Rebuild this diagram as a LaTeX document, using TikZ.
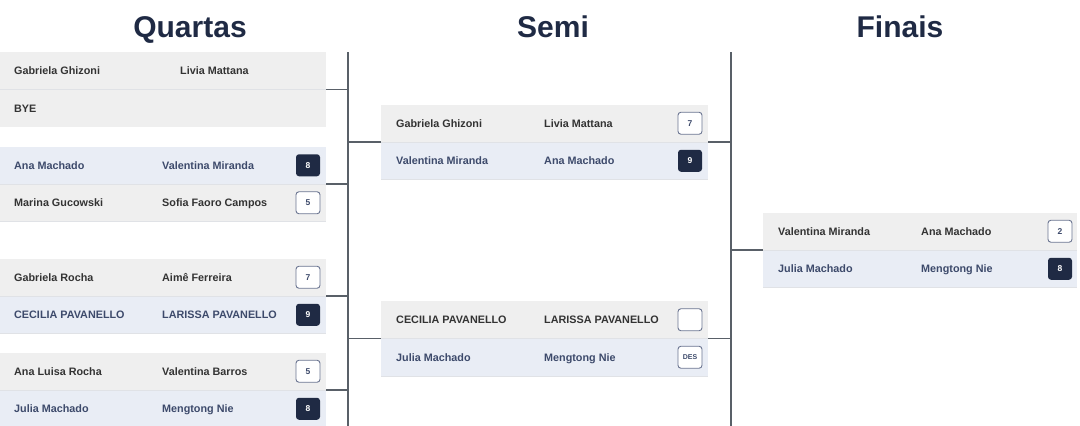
\documentclass[tikz,border=0pt]{standalone}
\usepackage{fontspec}
\setmainfont{Liberation Sans}
\usepackage{xcolor}
\usepackage{tikz}
\usetikzlibrary{positioning, calc}

\definecolor{navy}{HTML}{1F2A44}
\definecolor{rowgray}{HTML}{EFEFEF}
\definecolor{rowblue}{HTML}{E9EDF5}
\definecolor{rowline}{HTML}{E0E2E6}
\definecolor{namedark}{HTML}{333333}
\definecolor{nameblue}{HTML}{3D4A6B}
\definecolor{scoreline}{HTML}{6B7591}
\definecolor{linegray}{HTML}{596068}

\newcommand{\namefont}{\bfseries\fontsize{10.8}{12}\selectfont}
\newcommand{\scorefont}{\bfseries\fontsize{8.5}{9}\selectfont}
\newcommand{\titlefont}{\bfseries\fontsize{30}{33}\selectfont}

\begin{document}
\begin{tikzpicture}[x=1pt, y=-1pt,
    row/.style={minimum height=37.5pt, inner sep=0pt, outer sep=0pt, anchor=north west},
    grayrow/.style={row, fill=rowgray},
    bluerow/.style={row, fill=rowblue},
    player/.style={anchor=base west, inner sep=0pt, yshift=-4pt, font=\namefont, text=namedark},
    winner/.style={player, text=nameblue},
    score/.style={rounded corners=3pt, minimum width=24pt, minimum height=22pt, inner sep=0pt, font=\scorefont},
    lose/.style={score, draw=scoreline, line width=0.9pt, fill=white, text=nameblue},
    won/.style={score, fill=navy, text=white},
    title/.style={anchor=base, font=\titlefont, text=navy},
    link/.style={draw=linegray, line width=1.6pt},
    sep/.style={draw=rowline, line width=0.7pt}]
    \useasboundingbox (0,0) rectangle (1080,426);

    % Titles
    \node[title] (tq) at (190,37) {Quartas};
    \node[title] (ts) at (553,37) {Semi};
    \node[title] (tf) at (900,37) {Finais};

    % Quartas
    \node[grayrow, minimum width=326pt] (q1a) at (0,52) {};
    \node[grayrow, minimum width=326pt] (q1b) at (0,89.5) {};
    \node[bluerow, minimum width=326pt] (q2a) at (0,146.5) {};
    \node[grayrow, minimum width=326pt] (q2b) at (0,184) {};
    \node[grayrow, minimum width=326pt] (q3a) at (0,258.5) {};
    \node[bluerow, minimum width=326pt] (q3b) at (0,296) {};
    \node[grayrow, minimum width=326pt] (q4a) at (0,352.5) {};
    \node[bluerow, minimum width=326pt] (q4b) at (0,390) {};

    % Semi
    \node[grayrow, minimum width=327pt] (s1a) at (381,104.5) {};
    \node[bluerow, minimum width=327pt] (s1b) at (381,142) {};
    \node[grayrow, minimum width=327pt] (s2a) at (381,301) {};
    \node[bluerow, minimum width=327pt] (s2b) at (381,338.5) {};

    % Finais
    \node[grayrow, minimum width=314pt] (fa) at (763,212.5) {};
    \node[bluerow, minimum width=314pt] (fb) at (763,250) {};

    % faint row borders
    \foreach \r in {q1a,q2a,q2b,q3a,q3b,q4a,s1a,s1b,s2a,s2b,fa,fb}
    \draw[sep] (\r.south west) -- (\r.south east);

    % names
    \node[player] (q1a1) at ([xshift=14pt]q1a.west) {Gabriela Ghizoni};
    \node[player] (q1a2) at ([xshift=180pt]q1a.west) {Livia Mattana};
    \node[player] (q1b1) at ([xshift=14pt]q1b.west) {BYE};
    \node[winner] (q2a1) at ([xshift=14pt]q2a.west) {Ana Machado};
    \node[winner] (q2a2) at ([xshift=162pt]q2a.west) {Valentina Miranda};
    \node[player] (q2b1) at ([xshift=14pt]q2b.west) {Marina Gucowski};
    \node[player] (q2b2) at ([xshift=162pt]q2b.west) {Sofia Faoro Campos};
    \node[player] (q3a1) at ([xshift=14pt]q3a.west) {Gabriela Rocha};
    \node[player] (q3a2) at ([xshift=162pt]q3a.west) {Aimê Ferreira};
    \node[winner] (q3b1) at ([xshift=14pt]q3b.west) {CECILIA PAVANELLO};
    \node[winner] (q3b2) at ([xshift=162pt]q3b.west) {LARISSA PAVANELLO};
    \node[player] (q4a1) at ([xshift=14pt]q4a.west) {Ana Luisa Rocha};
    \node[player] (q4a2) at ([xshift=162pt]q4a.west) {Valentina Barros};
    \node[winner] (q4b1) at ([xshift=14pt]q4b.west) {Julia Machado};
    \node[winner] (q4b2) at ([xshift=162pt]q4b.west) {Mengtong Nie};

    \node[player] (s1a1) at ([xshift=15pt]s1a.west) {Gabriela Ghizoni};
    \node[player] (s1a2) at ([xshift=163pt]s1a.west) {Livia Mattana};
    \node[winner] (s1b1) at ([xshift=15pt]s1b.west) {Valentina Miranda};
    \node[winner] (s1b2) at ([xshift=163pt]s1b.west) {Ana Machado};
    \node[player] (s2a1) at ([xshift=15pt]s2a.west) {CECILIA PAVANELLO};
    \node[player] (s2a2) at ([xshift=163pt]s2a.west) {LARISSA PAVANELLO};
    \node[winner] (s2b1) at ([xshift=15pt]s2b.west) {Julia Machado};
    \node[winner] (s2b2) at ([xshift=163pt]s2b.west) {Mengtong Nie};

    \node[player] (fa1) at ([xshift=15pt]fa.west) {Valentina Miranda};
    \node[player] (fa2) at ([xshift=158pt]fa.west) {Ana Machado};
    \node[winner] (fb1) at ([xshift=15pt]fb.west) {Julia Machado};
    \node[winner] (fb2) at ([xshift=158pt]fb.west) {Mengtong Nie};

    % scores
    \node[won]  (q2as) at ([xshift=-18pt]q2a.east) {8};
    \node[lose] (q2bs) at ([xshift=-18pt]q2b.east) {5};
    \node[lose] (q3as) at ([xshift=-18pt]q3a.east) {7};
    \node[won]  (q3bs) at ([xshift=-18pt]q3b.east) {9};
    \node[lose] (q4as) at ([xshift=-18pt]q4a.east) {5};
    \node[won]  (q4bs) at ([xshift=-18pt]q4b.east) {8};
    \node[lose] (s1as) at ([xshift=-18pt]s1a.east) {7};
    \node[won]  (s1bs) at ([xshift=-18pt]s1b.east) {9};
    \node[lose] (s2as) at ([xshift=-18pt]s2a.east) {};
    \node[lose, font=\bfseries\fontsize{7}{8}\selectfont] (s2bs) at ([xshift=-18pt]s2b.east) {DES};
    \node[lose] (fas) at ([xshift=-17pt]fa.east) {2};
    \node[won]  (fbs) at ([xshift=-17pt]fb.east) {8};

    % Bracket lines
    \coordinate (vq) at (348,52);
    \coordinate (vqend) at (348,426);
    \coordinate (vs) at (731,52);
    \coordinate (vsend) at (731,426);
    \draw[link] (vq) -- (vqend);
    \draw[link] (vs) -- (vsend);
    \foreach \m in {q1a,q2a,q3a,q4a}
    \draw[link] (\m.south east) -- (\m.south east -| vq);
    \foreach \m in {s1a,s2a}{
      \draw[link] (\m.south west -| vq) -- (\m.south west);
      \draw[link] (\m.south east) -- (\m.south east -| vs);
    }
    \draw[link] (fa.south west -| vs) -- (fa.south west);
\end{tikzpicture}
\end{document}
